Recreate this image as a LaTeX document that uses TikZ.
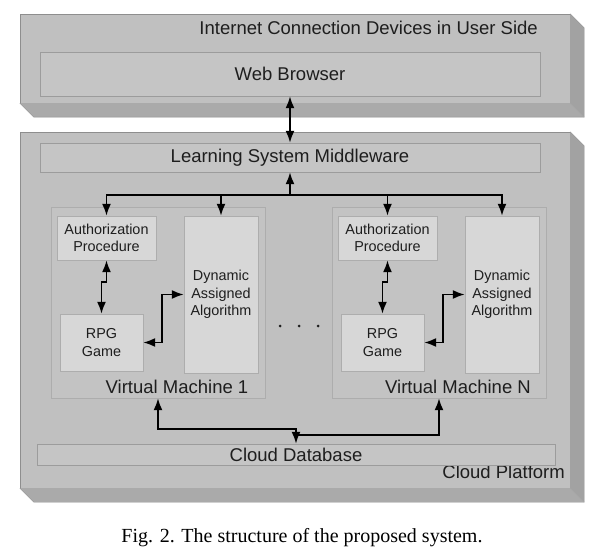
\documentclass[tikz,border=0pt]{standalone}
\usepackage{fontspec}
\setmainfont{Liberation Sans}
\newfontfamily\captionfont{Liberation Serif}
\usetikzlibrary{arrows.meta,calc,positioning}
\definecolor{slabface}{HTML}{C0C0C0}
\definecolor{slabright}{HTML}{A2A2A2}
\definecolor{slabbottom}{HTML}{AAAAAA}
\definecolor{slabedge}{HTML}{8E8E8E}
\definecolor{bandface}{HTML}{C5C5C5}
\definecolor{bandedge}{HTML}{9C9C9C}
\definecolor{partface}{HTML}{D7D7D7}
\definecolor{partedge}{HTML}{ADADAD}
\definecolor{inktext}{HTML}{1E1E1E}

\begin{document}
\begin{tikzpicture}[x=1pt,y=-1pt]
\tikzstyle{slab}=[rectangle, draw=slabedge, fill=slabface, inner sep=0, minimum width=550pt]
\tikzstyle{band}=[rectangle, draw=bandedge, fill=bandface, inner sep=0, text=inktext, font=\fontsize{18.5}{22}\selectfont]
\tikzstyle{vm}=[rectangle, draw=partedge, fill=slabface!95!white, inner sep=0, minimum width=214pt, minimum height=191pt]
\tikzstyle{part}=[rectangle, draw=partedge, fill=partface, inner sep=0, align=center, text=inktext, font=\fontsize{14.4}{17.5}\selectfont]
\tikzstyle{caption}=[inner sep=0, text=inktext, font=\fontsize{18.5}{22}\selectfont]
\tikzstyle{link}=[line width=1.8pt, >={Latex[length=12pt,width=9pt]}]
\tikzstyle{connect}=[link, <->]
\useasboundingbox (0,0) rectangle (603,559);
\fill[white] (0,0) rectangle (603,559);

% the two slabs
\node[slab, minimum height=89pt] (user) at (295,58.5) {};
\node[slab, minimum height=356pt] (cloud) at (295,310) {};
\foreach \s in {user,cloud} {
  \fill[slabright] (\s.north east) -- ++(14,14) -- ($(\s.south east)+(14,14)$) -- (\s.south east) -- cycle;
  \fill[slabbottom] (\s.south west) -- ++(14,14) -- ($(\s.south east)+(14,14)$) -- (\s.south east) -- cycle;
  \draw[slabedge, thin] (\s.north east) -- ++(14,14) -- ($(\s.south east)+(14,14)$) -- ($(\s.south west)+(14,14)$) -- (\s.south west);
  \draw[slabedge!80!white, thin] (\s.south east) -- ++(14,14);
}
\node[caption, anchor=east] (usertitle) at (538,28) {Internet Connection Devices in User Side};
\node[caption, anchor=east] (cloudtitle) at (565,472) {Cloud Platform};

% bands
\node[band, minimum width=500pt, minimum height=44pt] (web) at (290,74) {Web Browser};
\node[band, minimum width=500pt, minimum height=29pt] (mw) at (290,157.5) {Learning System Middleware};
\node[band, minimum width=518pt, minimum height=21pt] (db) at (296,454.5) {Cloud Database};

% virtual machines
\foreach \v/\dx in {1/0,N/281} {
  \node[vm] (vm\v) at (158+\dx,302.5) {};
  \node[caption] (vmtitle\v) at ($(vm\v.south)+(19,-11)$) {Virtual Machine \v};
  \node[part, minimum width=99pt, minimum height=44pt] (auth\v) at (106.5+\dx,238) {Authorization\\Procedure};
  \node[part, minimum width=74pt, minimum height=157pt] (daa\v) at (221+\dx,294.5) {Dynamic\\Assigned\\Algorithm};
  \node[part, minimum width=83pt, minimum height=57pt] (rpg\v) at (101.5+\dx,342.5) {RPG\\Game};
  \draw[connect] (auth\v.south) -- ++(0,22) -| (rpg\v.north);
  \draw[connect] (rpg\v.east) -- ++(19,0) |- (daa\v.west);
}
\foreach \d in {0,19,38}
  \fill[inktext] (280+\d,326) circle (1.5);

% connectors
\draw[connect] (web.south) -- (mw.north);
\draw[link, <-] (mw.south) -- ++(0,23) coordinate (hub);
\draw[link, ->] (hub) -| (auth1.north);
\draw[link, ->] (hub) -| (daa1.north);
\draw[link, ->] (hub) -| (authN.north);
\draw[link, ->] (hub) -| (daaN.north);
\coordinate (dbhub) at ($(db.north)+(0,-15)$);
\coordinate (dbjoin) at ($(db.north)+(0,-9)$);
\draw[connect] (vm1.south) |- (dbhub) -- (db.north);
\draw[link, <-] (vmN.south) |- (dbjoin);

\node[inner sep=0, font=\captionfont\fontsize{20}{24}\selectfont] (figcaption) at (302,538) {Fig. 2. The structure of the proposed system.};
\end{tikzpicture}
\end{document}
